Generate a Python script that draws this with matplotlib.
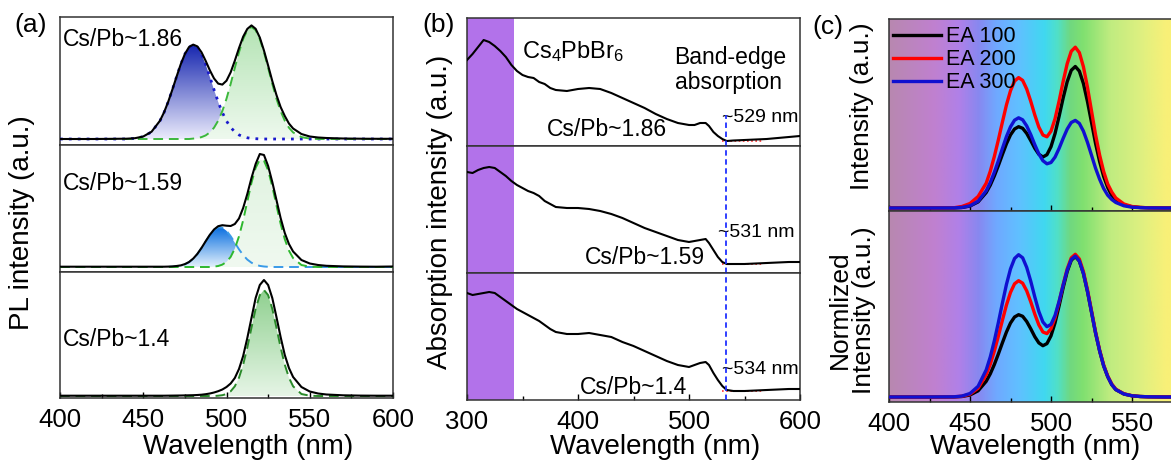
import numpy as np
import matplotlib
matplotlib.use("Agg")
import matplotlib.pyplot as plt
from matplotlib.colors import LinearSegmentedColormap
from matplotlib.ticker import MultipleLocator

plt.rcParams['font.family'] = ['Liberation Sans', 'DejaVu Sans']
plt.rcParams['mathtext.fontset'] = 'custom'
plt.rcParams['mathtext.rm'] = 'Liberation Sans'
plt.rcParams['mathtext.default'] = 'rm'

W, H = 1171, 466

# ---------------- data ----------------
# wavelength grid shared by panels (a) and (c), nm
wl = [400, 420, 440, 445, 450, 455, 460, 462.5, 465, 467.5, 470, 472.5, 475, 477.5,
      480, 482.5, 485, 487.5, 490, 492.5, 495, 497.5, 500, 502.5, 505, 507.5, 510,
      512.5, 515, 517.5, 520, 522.5, 525, 527.5, 530, 532.5, 535, 537.5, 540, 545,
      550, 555, 560, 570, 580, 590, 600]

# (a) PL spectra + fitted components (a.u.)
a_top_total = [0, 0, 0.3, 0.8, 2.5, 7.3, 18.2, 26.7, 37.3, 49.5, 62.3, 74.7, 85.0, 92.0,
               94.4, 92.6, 86.7, 78.1, 68.7, 60.6, 55.4, 54.4, 58.3, 66.7, 78.3, 90.9, 102.3,
               110.1, 113.6, 110.2, 101.5, 88.5, 73.5, 58.0, 44.0, 32.0, 23.0, 15.5, 10.5, 5.0,
               2.5, 1.5, 1.0, 0.5, 0.3, 0.2, 0.2]
a_top_blue = [0, 0, 0, 0.6, 2.3, 7.1, 18.0, 26.5, 37.1, 49.3, 62.1, 74.5, 84.8, 91.7,
              94.0, 91.7, 84.8, 74.5, 62.1, 49.3, 37.1, 26.5, 18.0, 11.6, 7.1, 4.1, 2.3,
              1.2, 0.6, 0.3, 0.1, 0, 0, 0, 0, 0, 0, 0, 0, 0, 0, 0, 0, 0, 0, 0, 0]
a_top_green = [0, 0, 0, 0, 0, 0, 0, 0, 0, 0, 0, 0, 0, 0,
               0.4, 0.9, 1.9, 3.6, 6.6, 11.3, 18.3, 27.9, 40.3, 55.1, 71.2, 86.8, 100.0,
               108.9, 112.0, 108.9, 100.0, 86.8, 71.2, 55.1, 40.3, 27.9, 18.3, 11.3, 6.6, 1.9,
               0.4, 0, 0, 0, 0, 0, 0]

a_mid_total = [0.3, 0.3, 0.3, 0.3, 0.3, 0.3, 0.3, 0.3, 0.4, 0.6, 1.0, 1.6, 2.9, 5.0,
               8.4, 13.1, 19.1, 25.8, 32.2, 37.5, 40.8, 41.8, 41.3, 41.0, 43.0, 48.5, 59.0,
               73.0, 89.0, 103.0, 113.0, 112.0, 101.0, 85.0, 67.0, 49.0, 34.0, 23.0, 15.5, 7.0,
               3.5, 2.0, 1.2, 0.6, 0.4, 0.3, 0.5]
a_mid_blue = [0, 0, 0, 0, 0, 0, 0, 0, 0.1, 0.3, 0.6, 1.3, 2.6, 4.8,
              8.2, 13.0, 19.0, 25.6, 32.0, 37.1, 39.8, 39.4, 36.2, 30.8, 24.3, 17.7, 11.9,
              7.4, 4.3, 2.3, 1.1, 0.5, 0.2, 0, 0, 0, 0, 0, 0, 0, 0, 0, 0, 0, 0, 0, 0]
a_mid_green = [0, 0, 0, 0, 0, 0, 0, 0, 0, 0, 0, 0, 0, 0,
               0, 0, 0, 0, 0, 0.4, 1.0, 2.4, 5.1, 10.1, 18.4, 30.6, 46.7,
               65.5, 84.2, 99.2, 107.3, 106.3, 96.7, 80.6, 61.6, 43.3, 27.8, 16.4, 8.9, 2.0,
               0.3, 0, 0, 0, 0, 0, 0]

a_bot_total = [0.3, 0.3, 0.3, 0.3, 0.3, 0.3, 0.3, 0.3, 0.35, 0.4, 0.45, 0.5, 0.6, 0.7,
               0.8, 1.0, 1.3, 1.8, 2.5, 3.5, 4.8, 6.5, 9.0, 12.5, 18.0, 27.0, 40.0,
               58.0, 78.0, 98.0, 111.0, 116.0, 111.0, 98.0, 79.0, 59.0, 41.0, 28.0, 19.0, 9.0,
               4.5, 2.5, 1.5, 0.7, 0.4, 0.3, 0.3]
a_bot_green = [0, 0, 0, 0, 0, 0, 0, 0, 0, 0, 0, 0, 0, 0,
               0, 0, 0, 0, 0, 0, 0.3, 0.8, 2.0, 4.7, 9.7, 18.3, 31.3,
               48.5, 68.3, 87.2, 100.9, 106.0, 100.9, 87.2, 68.3, 48.5, 31.3, 18.3, 9.7, 2.0,
               0.3, 0, 0, 0, 0, 0, 0]

a_labels = ['Cs/Pb~1.86', 'Cs/Pb~1.59', 'Cs/Pb~1.4']

# (b) absorption spectra (a.u.)
wl_b = [300, 305, 310, 315, 320, 325, 330, 335, 340, 345, 350, 355, 360, 365, 370, 375,
        380, 390, 400, 410, 420, 430, 440, 450, 460, 470, 480, 490, 500, 505, 510, 515,
        518, 522, 526, 530, 534, 540, 550, 560, 570, 580, 590, 600]
b_186 = [86, 92, 99, 106, 104, 100, 95, 89, 81, 75, 71, 69, 68, 64, 62, 58,
         56, 55, 57, 58, 57, 53, 48, 43, 38, 32, 27, 23, 21, 21, 23, 23,
         20, 14, 10, 7, 5, 5.5, 6, 6.5, 7, 8, 9, 10]
b_159 = [101, 100, 103, 105, 106, 105, 101, 97, 92, 88, 85, 82, 80, 77, 72, 69,
         66, 65, 65, 64, 62, 59, 55, 50, 45, 41, 37, 33, 31, 32, 33, 34,
         30, 23, 16, 11, 9, 9, 9, 9.5, 10, 10.5, 11, 11]
b_14 = [107, 105, 106, 107, 108, 107, 103, 99, 95, 91, 88, 85, 82, 79, 75, 71,
        68, 66, 66, 67, 65, 63, 58, 54, 49, 44, 39, 35, 33, 35, 37, 38,
        35, 27, 20, 14, 10, 9, 9, 9.5, 10, 10.5, 11, 11]
b_labels = ['Cs/Pb~1.86', 'Cs/Pb~1.59', 'Cs/Pb~1.4']
b_edges = ['~529 nm', '~531 nm', '~534 nm']
b_fit_wl = [530, 566]
b_fit_levels = [5.5, 9, 9.5]
band_lo, band_hi = 300, 342
edge_wl = 533

# (c) PL vs EA amount (a.u.)
c_top_ea100 = [0, 0, 0.1, 0.5, 2.0, 6.1, 15.5, 22.8, 32.0, 42.4, 53.5, 64.2, 73.1, 79.0,
               81.3, 79.7, 74.6, 67.4, 59.7, 53.7, 51.0, 53.3, 61.3, 74.5, 91.7, 110.0, 126.3,
               137.7, 141.5, 136.9, 124.5, 106.5, 85.6, 64.6, 46.5, 31.5, 20.5, 12.5, 7.5, 3.0,
               1.2, 0.5, 0.2, 0, 0, 0, 0]
c_top_ea200 = [0, 0, 0.2, 1.5, 4.5, 11.5, 24.8, 36.7, 51.4, 68.1, 85.9, 103.1, 117.3, 126.9,
               130.4, 127.6, 119.0, 106.7, 93.0, 80.9, 73.0, 71.2, 76.8, 89.3, 107.0, 126.5, 144.3,
               156.7, 160.8, 155.4, 141.3, 120.8, 97.1, 73.3, 53.0, 36.5, 24.0, 16.0, 10.0, 4.0,
               1.5, 0.6, 0.2, 0, 0, 0, 0]
c_top_ea300 = [0, 0, 0.1, 0.6, 2.2, 6.8, 17.2, 25.4, 35.6, 47.2, 59.5, 71.4, 81.2, 87.8,
               90.2, 88.2, 82.1, 73.4, 63.3, 54.1, 47.3, 44.2, 45.5, 50.9, 59.6, 69.6, 78.9,
               85.5, 87.6, 84.6, 76.9, 65.7, 52.8, 39.8, 28.8, 19.5, 12.8, 8.5, 5.5, 2.2,
               0.8, 0.3, 0.1, 0, 0, 0, 0]
c_bot_ea100 = [0, 0, 0.1, 0.5, 2.0, 6.2, 15.7, 23.1, 32.4, 43.0, 54.2, 65.0, 74.0, 80.0,
               82.3, 80.7, 75.5, 68.2, 60.3, 54.1, 51.3, 53.4, 61.2, 74.2, 91.2, 109.3, 125.5,
               136.7, 140.5, 135.9, 123.6, 105.7, 85.0, 64.1, 46.2, 31.2, 20.4, 12.4, 7.4, 3.0,
               1.2, 0.5, 0.2, 0, 0, 0, 0]
c_bot_ea200 = [0, 0, 0.2, 0.7, 2.8, 8.8, 22.2, 32.7, 45.8, 60.8, 76.7, 92.0, 104.6, 113.2,
               116.3, 113.8, 106.2, 95.2, 82.9, 72.1, 65.0, 63.4, 68.3, 79.3, 95.0, 112.3, 128.1,
               139.1, 142.7, 138.0, 125.4, 107.2, 86.2, 65.0, 47.0, 32.0, 21.0, 13.0, 7.8, 3.2,
               1.3, 0.5, 0.2, 0, 0, 0, 0]
c_bot_ea300 = [0, 0, 0.2, 0.9, 3.5, 10.7, 27.1, 40.0, 56.1, 74.4, 93.9, 112.6, 128.1, 138.5,
               142.3, 139.2, 129.6, 115.8, 100.0, 85.5, 75.0, 70.3, 72.6, 81.6, 95.7, 111.9, 126.9,
               137.5, 140.9, 136.1, 123.7, 105.7, 85.0, 64.1, 46.2, 31.2, 20.4, 12.4, 7.4, 3.0,
               1.2, 0.5, 0.2, 0, 0, 0, 0]
c_names = ['EA 100', 'EA 200', 'EA 300']
c_colors = ['black', '#ff0000', '#1010d0']
c_ticks = [400, 450, 500, 550]

# visible-spectrum background of (c)
spec_wl = [400, 428, 443, 455, 466, 480, 496, 504, 512, 520, 537, 557, 571, 600]
spec_colors = ['#b888b0', '#c080d0', '#b080e8', '#8888f0', '#70a8ff', '#60c0ff', '#40d8f0',
               '#50e0c8', '#70d880', '#80e070', '#c0ec80', '#e0f080', '#f8f078', '#fff070']

# ---------------- figure ----------------
fig = plt.figure(figsize=(W / 100, H / 100), dpi=100)


def px_axes(left, top, right, bottom):
    return fig.add_axes([left / W, 1 - bottom / H, (right - left) / W, (bottom - top) / H])


def style(ax, labels, major, minor, ticks=True):
    ax.tick_params(which='both', direction='in', top=False, right=False, left=False,
                   labelleft=False, labelbottom=labels, labelsize=18.5, pad=7, width=1)
    ax.tick_params(which='major', length=4 if ticks else 0)
    ax.tick_params(which='minor', length=3 if ticks else 0)
    ax.xaxis.set_major_locator(MultipleLocator(major))
    ax.xaxis.set_minor_locator(MultipleLocator(minor))
    for s in ax.spines.values():
        s.set_linewidth(1.1)
        s.set_color('#333333')


def grad_fill(ax, x, y, c_top, c_bot):
    poly = ax.fill_between(x, 0, y, facecolor='none', lw=0)
    cmap = LinearSegmentedColormap.from_list('g', [c_bot, c_top])
    img = ax.imshow(np.linspace(0, 1, 200).reshape(-1, 1), cmap=cmap, origin='lower',
                    extent=[400, 600, 0, max(y)], aspect='auto', zorder=1)
    img.set_clip_path(poly.get_paths()[0], transform=ax.transData)


# ---- panel (a)
a_boxes = [(60, 17, 393, 145), (60, 145, 393, 272), (60, 272, 393, 398)]
a_ylims = [(-6, 122), (-5, 122), (-2, 124)]
a_text_y = [99, 83, 56]
axes_a = [px_axes(*b) for b in a_boxes]
for i, ax in enumerate(axes_a):
    style(ax, i == 2, 50, 25, ticks=(i == 2))

ax = axes_a[0]
grad_fill(ax, wl, a_top_blue, '#1828b0', '#ebebfc')
grad_fill(ax, wl, a_top_green, '#b5e4b5', '#eef9ee')
ax.plot(wl, a_top_total, color='black', lw=1.5, zorder=4)
ax.plot(wl, a_top_blue, color='#1a1acc', lw=2, ls=(0, (1, 2.2)), zorder=3)
ax.plot(wl, a_top_green, color='#3cb83c', lw=1.4, ls=(0, (5, 3)), zorder=3)

ax = axes_a[1]
grad_fill(ax, wl, a_mid_blue, '#0a6fe0', '#e2f0fc')
grad_fill(ax, wl, a_mid_green, '#e0f3e0', '#f0f9f0')
ax.plot(wl, a_mid_total, color='black', lw=1.5, zorder=4)
ax.plot(wl, a_mid_blue, color='#3a9ae8', lw=1.4, ls=(0, (5, 3)), zorder=3)
ax.plot(wl, a_mid_green, color='#2eb82e', lw=1.4, ls=(0, (5, 3)), zorder=3)

ax = axes_a[2]
grad_fill(ax, wl, a_bot_green, '#8fd08f', '#e6f5e6')
ax.plot(wl, a_bot_total, color='black', lw=1.5, zorder=4)
ax.plot(wl, a_bot_green, color='#2a8a2a', lw=1.4, ls=(0, (5, 3)), zorder=3)

for i, ax in enumerate(axes_a):
    ax.set_xlim(400, 600)
    ax.set_ylim(*a_ylims[i])
    ax.text(402, a_text_y[i], a_labels[i], fontsize=16.5, ha='left', va='center', zorder=5)

# ---- panel (b)
b_boxes = [(467, 18, 800, 146), (467, 146, 800, 273), (467, 273, 800, 400)]
b_ylims = [(0, 128), (0, 127), (0, 127)]
b_curves = [b_186, b_159, b_14]
b_text = [(372, 16), (406, 15), (402, 13)]
b_edge_text = [(530, 28), (526, 40), (530, 30)]
axes_b = [px_axes(*b) for b in b_boxes]
for i, ax in enumerate(axes_b):
    style(ax, i == 2, 100, 50, ticks=(i == 2))
    ax.axvspan(band_lo, band_hi, color='#b272ea', lw=0, zorder=0)
    ax.plot(wl_b, b_curves[i], color='black', lw=1.5, zorder=3)
    ax.plot(b_fit_wl, [b_fit_levels[i]] * 2, color='#ff3030', lw=1.2, ls=(0, (1, 1.5)), zorder=2)
    ymax = 31 / 128 if i == 0 else 1
    ax.axvline(edge_wl, ymin=0, ymax=ymax, color='#2030ff', lw=1.3, ls=(0, (3, 2)), zorder=4)
    ax.set_xlim(300, 600)
    ax.set_ylim(*b_ylims[i])
    ax.text(b_text[i][0], b_text[i][1], b_labels[i], fontsize=16.5, ha='left', va='center')
    ax.text(b_edge_text[i][0], b_edge_text[i][1], b_edges[i], fontsize=14, ha='left', va='center')
axes_b[0].text(350, 94, r'Cs$_4$PbBr$_6$', fontsize=17, ha='left', va='center')
axes_b[0].text(487, 76, 'Band-edge\nabsorption', fontsize=16.5, ha='left', va='center',
               linespacing=1.15)

# ---- panel (c)
c_boxes = [(889, 19, 1213, 211), (889, 211, 1213, 402)]
c_ylims = [(-3, 189), (-5, 186)]
c_curves = [[c_top_ea100, c_top_ea200, c_top_ea300], [c_bot_ea100, c_bot_ea200, c_bot_ea300]]
spec_pos = [(w - 400) / 200 for w in spec_wl]
spec_cmap = LinearSegmentedColormap.from_list('spec', list(zip(spec_pos, spec_colors)))
axes_c = [px_axes(*b) for b in c_boxes]
for i, ax in enumerate(axes_c):
    style(ax, i == 1, 50, 25)
    ax.set_xticks(c_ticks)
    ax.imshow(np.linspace(0, 1, 600).reshape(1, -1), cmap=spec_cmap, aspect='auto',
              extent=[400, 600, c_ylims[i][0], c_ylims[i][1]], zorder=0)
    for y, name, col in zip(c_curves[i], c_names, c_colors):
        ax.plot(wl, y, color=col, lw=2.4, label=name, zorder=3)
    ax.set_xlim(400, 600)
    ax.set_ylim(*c_ylims[i])
axes_c[0].legend(loc='upper left', frameon=False, fontsize=15.5, handlelength=2.2,
                 handletextpad=0.25, labelspacing=0.1, borderaxespad=0.0,
                 bbox_to_anchor=(0.0, 0.985), borderpad=0.2)

# ---- shared labels
fig.text(31 / W, 1 - 25 / H, '(a)', fontsize=19, ha='center', va='center')
fig.text(439 / W, 1 - 25 / H, '(b)', fontsize=19, ha='center', va='center')
fig.text(828 / W, 1 - 27 / H, '(c)', fontsize=19, ha='center', va='center')
for xc in (248, 655, 1035):
    fig.text(xc / W, 1 - 447 / H, 'Wavelength (nm)', fontsize=20, ha='center', va='center')
fig.text(22 / W, 1 - 223 / H, 'PL intensity (a.u.)', fontsize=20, rotation=90,
         ha='center', va='center')
fig.text(440 / W, 1 - 212 / H, 'Absorption intensity (a.u.)', fontsize=20, rotation=90,
         ha='center', va='center')
fig.text(862 / W, 1 - 106 / H, 'Intensity (a.u.)', fontsize=19, rotation=90,
         ha='center', va='center')
fig.text(852 / W, 1 - 310 / H, 'Normlized\nIntensity (a.u.)', fontsize=19, rotation=90,
         ha='center', va='center', multialignment='center', linespacing=1.05)

fig.savefig('out.png', dpi=100)
